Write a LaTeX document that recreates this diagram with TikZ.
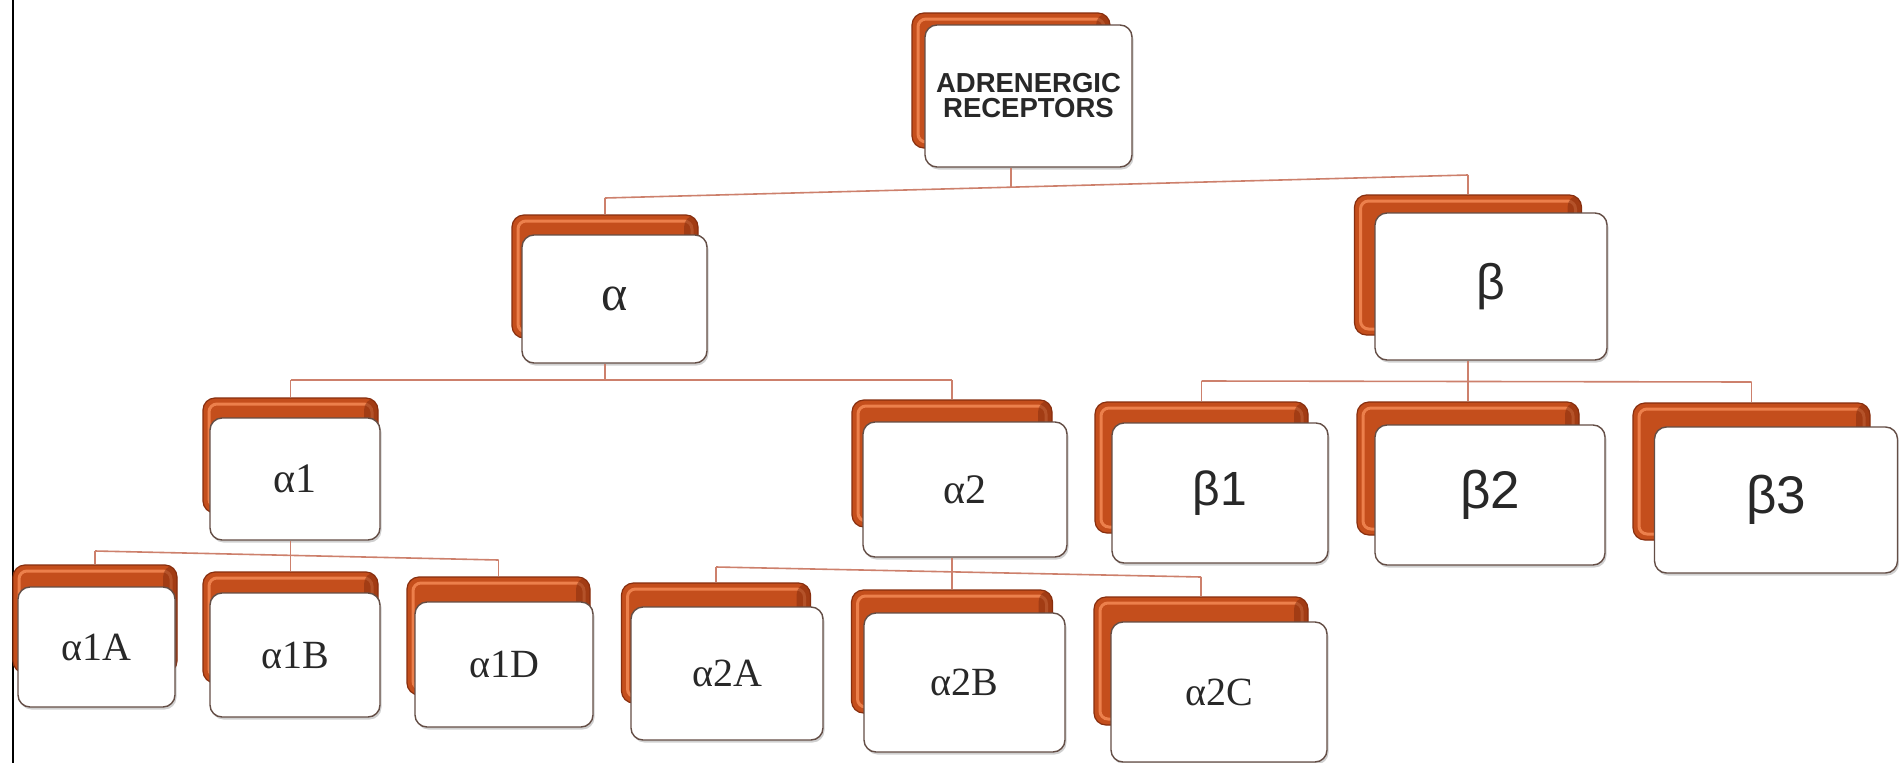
\documentclass[tikz,border=0pt]{standalone}
\usepackage{fontspec}
\setmainfont{Liberation Serif}
\newfontfamily\labsans{Liberation Sans}
\usetikzlibrary{shadows,calc}

\definecolor{rust}{RGB}{196,78,28}
\definecolor{rustdark}{RGB}{135,46,14}
\definecolor{rustlight}{RGB}{236,128,76}
\definecolor{cardedge}{RGB}{100,78,70}
\definecolor{linkcol}{RGB}{205,128,108}
\definecolor{labelink}{RGB}{40,40,40}

\tikzset{
  backcard/.style={rounded corners=12pt, fill=rust, draw=rustdark, line width=1.2pt, inner sep=0pt,
    path picture={\draw[rustlight, line width=3pt, rounded corners=8pt]
      ([xshift=6pt,yshift=-6pt]path picture bounding box.north west) rectangle
      ([xshift=-6pt,yshift=6pt]path picture bounding box.south east);
      \fill[rustdark, opacity=0.55] ([xshift=-14pt]path picture bounding box.north east) rectangle
      (path picture bounding box.south east);}},
  frontcard/.style={rounded corners=12pt, fill=white, draw=cardedge, line width=1.4pt,
    inner sep=0pt, align=center, text=labelink,
    drop shadow={shadow xshift=1.5pt, shadow yshift=-2.5pt, opacity=0.3, fill=black!60}},
  link/.style={draw=linkcol, line width=1.6pt},
  rootfont/.style={font=\labsans\bfseries\fontsize{27.5}{25}\selectfont},
  greekbig/.style={font=\fontsize{50}{54}\selectfont},
  greekmid/.style={font=\fontsize{42}{46}\selectfont},
  greeksmall/.style={font=\fontsize{40}{44}\selectfont},
  betabig/.style={font=\labsans\fontsize{50}{54}\selectfont},
  betamid/.style={font=\labsans\fontsize{48}{52}\selectfont},
  betalarge/.style={font=\labsans\fontsize{53}{57}\selectfont},
}

\begin{document}
\begin{tikzpicture}[x=1pt, y=-1pt]
\fill[white] (0,0) rectangle (1899,763);
\useasboundingbox (0,0) rectangle (1899,763);

% left frame edge
\draw[black, line width=2pt] (13,0) -- (13,763);

% junction points of the connector bars
\coordinate (h1a) at (605,198);
\coordinate (h1m) at (1011,187.2);
\coordinate (h1b) at (1468,175);
\coordinate (h2a) at (290.5,380);
\coordinate (h2m) at (605,380);
\coordinate (h2b) at (952,380);
\coordinate (h3a) at (1201.5,381);
\coordinate (h3m) at (1468,381.5);
\coordinate (h3b) at (1751.5,382);
\coordinate (h4a) at (95,551);
\coordinate (h4m) at (290.5,555.4);
\coordinate (h4b) at (498.5,560);
\coordinate (h5a) at (716,567);
\coordinate (h5m) at (952,571.9);
\coordinate (h5b) at (1201,577);

% connector bars
\draw[link] (h1a) -- (h1b);
\draw[link] (h2a) -- (h2b);
\draw[link] (h3a) -- (h3b);
\draw[link] (h4a) -- (h4b);
\draw[link] (h5a) -- (h5b);

% root
\node[backcard, minimum width=198pt, minimum height=135pt] (root-b) at (1011,80.5) {};
\node[frontcard, rootfont, minimum width=207pt, minimum height=142pt] (root) at (1028.5,96) {ADRENERGIC\\RECEPTORS};

% second level
\node[backcard, minimum width=186pt, minimum height=123pt] (a-b) at (605,276.5) {};
\node[frontcard, greekbig, minimum width=185pt, minimum height=128pt] (a) at (614.5,299) {α};
\node[backcard, minimum width=227pt, minimum height=140pt] (b-b) at (1468,265) {};
\node[frontcard, betabig, minimum width=232pt, minimum height=147pt] (b) at (1491,286.5) {β};

% third level
\node[backcard, minimum width=175pt, minimum height=115pt] (a1-b) at (290.5,455.5) {};
\node[frontcard, greekmid, minimum width=170pt, minimum height=122pt] (a1) at (295,479) {α1};
\node[backcard, minimum width=200pt, minimum height=127pt] (a2-b) at (952,463.5) {};
\node[frontcard, greekmid, minimum width=204pt, minimum height=135pt] (a2) at (965,489.5) {α2};
\node[backcard, minimum width=213pt, minimum height=131pt] (b1-b) at (1201.5,467.5) {};
\node[frontcard, betamid, minimum width=216pt, minimum height=140pt] (b1) at (1220,493) {β1};
\node[backcard, minimum width=222pt, minimum height=133pt] (b2-b) at (1468,468.5) {};
\node[frontcard, betalarge, minimum width=230pt, minimum height=140pt] (b2) at (1490,495) {β2};
\node[backcard, minimum width=237pt, minimum height=137pt] (b3-b) at (1751.5,471.5) {};
\node[frontcard, betalarge, minimum width=243pt, minimum height=146pt] (b3) at (1776,500) {β3};

% fourth level
\node[backcard, minimum width=164pt, minimum height=108pt] (a1A-b) at (95,619) {};
\node[frontcard, greeksmall, minimum width=157pt, minimum height=120pt] (a1A) at (96.5,647) {α1A};
\node[backcard, minimum width=175pt, minimum height=111pt] (a1B-b) at (290.5,627.5) {};
\node[frontcard, greeksmall, minimum width=170pt, minimum height=124pt] (a1B) at (295,655) {α1B};
\node[backcard, minimum width=183pt, minimum height=118pt] (a1D-b) at (498.5,636) {};
\node[frontcard, greeksmall, minimum width=178pt, minimum height=125pt] (a1D) at (504,664.5) {α1D};
\node[backcard, minimum width=189pt, minimum height=120pt] (a2A-b) at (716,643) {};
\node[frontcard, greeksmall, minimum width=192pt, minimum height=133pt] (a2A) at (727,673.5) {α2A};
\node[backcard, minimum width=201pt, minimum height=123pt] (a2B-b) at (952,651.5) {};
\node[frontcard, greeksmall, minimum width=201pt, minimum height=139pt] (a2B) at (964.5,682.5) {α2B};
\node[backcard, minimum width=214pt, minimum height=128pt] (a2C-b) at (1201,661) {};
\node[frontcard, greeksmall, minimum width=216pt, minimum height=140pt] (a2C) at (1219,692) {α2C};

% drops from parents to bars
\draw[link] (root-b |- root.south) -- (h1m);
\draw[link] (a-b |- a.south) -- (h2m);
\draw[link] (b-b |- b.south) -- (h3m);
\draw[link] (a1-b |- a1.south) -- (h4m);
\draw[link] (a2-b |- a2.south) -- (h5m);

% drops from bars to children
\draw[link] (h1a) -- (a-b.north);
\draw[link] (h1b) -- (b-b.north);
\draw[link] (h2a) -- (a1-b.north);
\draw[link] (h2b) -- (a2-b.north);
\draw[link] (h3a) -- (b1-b.north);
\draw[link] (h3m) -- (b2-b.north);
\draw[link] (h3b) -- (b3-b.north);
\draw[link] (h4a) -- (a1A-b.north);
\draw[link] (h4m) -- (a1B-b.north);
\draw[link] (h4b) -- (a1D-b.north);
\draw[link] (h5a) -- (a2A-b.north);
\draw[link] (h5m) -- (a2B-b.north);
\draw[link] (h5b) -- (a2C-b.north);
\end{tikzpicture}
\end{document}
